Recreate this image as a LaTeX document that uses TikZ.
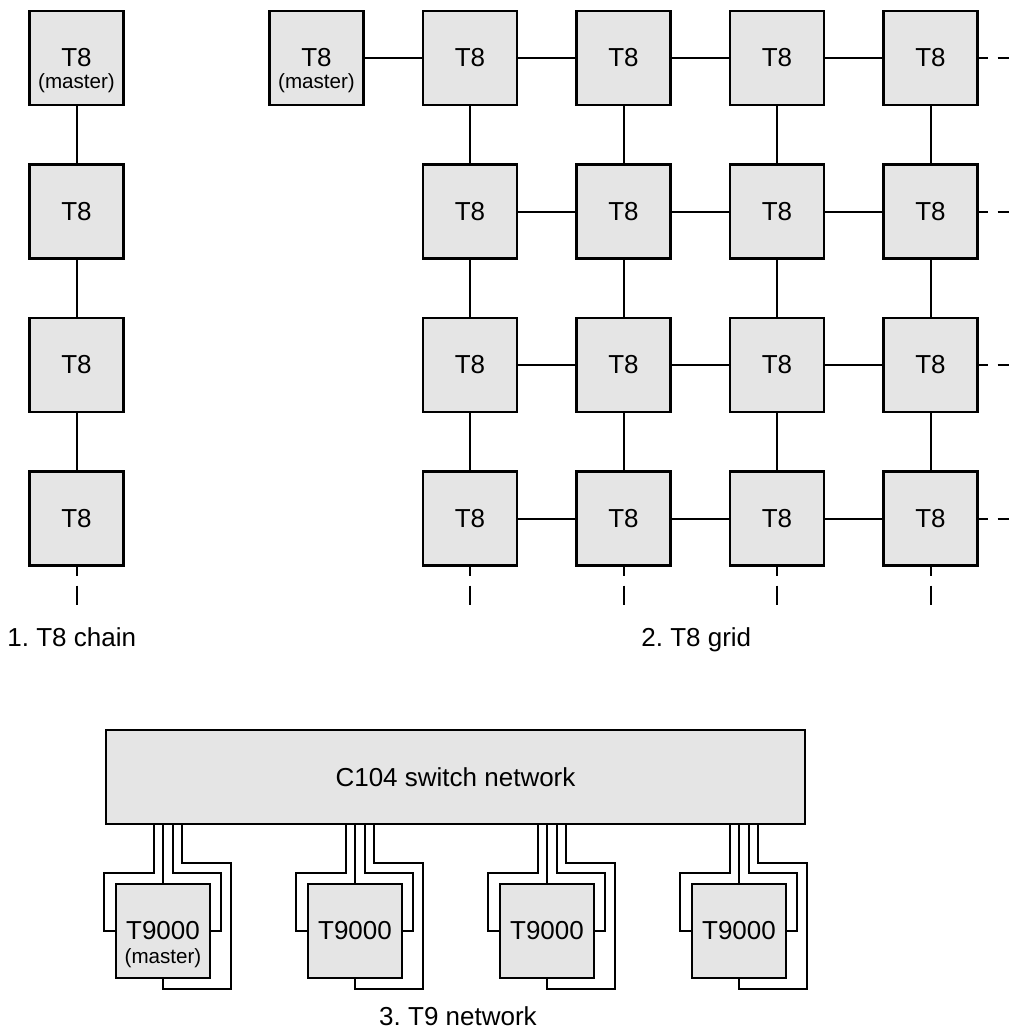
\documentclass[tikz,border=0pt]{standalone}
\usepackage{fontspec}
\setmainfont{Liberation Sans}
\usetikzlibrary{positioning,calc}
\frenchspacing

\begin{document}
\begin{tikzpicture}[x=0.5pt, y=-0.5pt,
    chip/.style={draw, line width=1.2pt, fill=black!10, minimum size=47pt, inner sep=0pt, font=\fontsize{13}{15}\selectfont},
    link/.style={line width=1pt},
    wire/.style={line width=1pt},
    stub/.style={line width=1pt, dash pattern=on 4.5pt off 5pt on 20pt off 5pt},
    tag/.style={font=\fontsize{10.3}{12}\selectfont, inner sep=0pt},
    caption/.style={font=\fontsize{13}{15}\selectfont, anchor=base west, inner sep=0pt}]
  \useasboundingbox (0,0) rectangle (1009,1034);

  % 1. chain
  \foreach \r/\y in {1/58,2/211.5,3/365,4/518.5} {
    \node[chip] (k\r) at (76.5,\y) {T8};
  }
  \node[tag] (ktag) at ([yshift=-12.5pt]k1.center) {(master)};
  \draw[link] (k1) -- (k2) (k2) -- (k3) (k3) -- (k4);
  \coordinate (ks) at (76.5,605);
  \draw[stub] (k4) -- (ks);
  \node[caption] (cap1) at (7,646) {1. T8 chain};

  % 2. grid
  \node[chip] (g01) at (316.5,58) {T8};
  \node[tag] (gtag) at ([yshift=-12.5pt]g01.center) {(master)};
  \foreach \c/\x in {1/470,2/623.5,3/777,4/930.5} {
    \foreach \r/\y in {1/58,2/211.5,3/365,4/518.5} {
      \node[chip] (g\c\r) at (\x,\y) {T8};
    }
    \coordinate (gs\c) at (\x,605);
    \draw[stub] (g\c4) -- (gs\c);
  }
  \draw[link] (g01) -- (g11);
  \foreach \c/\n in {1/2,2/3,3/4} {
    \foreach \r in {1,...,4} {
      \draw[link] (g\c\r) -- (g\n\r);
    }
  }
  \foreach \c in {1,...,4} {
    \foreach \r/\n in {1/2,2/3,3/4} {
      \draw[link] (g\c\r) -- (g\c\n);
    }
  }
  \foreach \r/\y in {1/58,2/211.5,3/365,4/518.5} {
    \coordinate (ge\r) at (1009,\y);
    \draw[stub] (g4\r) -- (ge\r);
  }
  \node[caption] (cap2) at (641,646) {2. T8 grid};

  % 3. T9 network
  \node[chip, minimum width=349.5pt] (c104) at (455.5,777) {C104 switch network};
  \foreach \i/\x in {1/163,2/355,3/547,4/739} {
    \node[chip] (t\i) at (\x,931) {T9000};
    \draw[wire] (t\i.north |- c104.south) -- (t\i.north);
    \draw[wire] ([xshift=-4.75pt]t\i.north |- c104.south)
      |- ([xshift=-5.5pt,yshift=5pt]t\i.north west) |- (t\i.west);
    \draw[wire] ([xshift=4.75pt]t\i.north |- c104.south)
      |- ([xshift=5pt,yshift=5pt]t\i.north east) |- (t\i.east);
    \draw[wire] ([xshift=9.5pt]t\i.north |- c104.south)
      |- ([xshift=10pt,yshift=10pt]t\i.north east)
      |- ([yshift=-5pt]t\i.south) -- (t\i.south);
  }
  \node[tag] (ttag) at ([yshift=-13.5pt]t1.center) {(master)};
  \node[caption, anchor=base] (cap3) at (458,1025) {3. T9 network};
\end{tikzpicture}
\end{document}
